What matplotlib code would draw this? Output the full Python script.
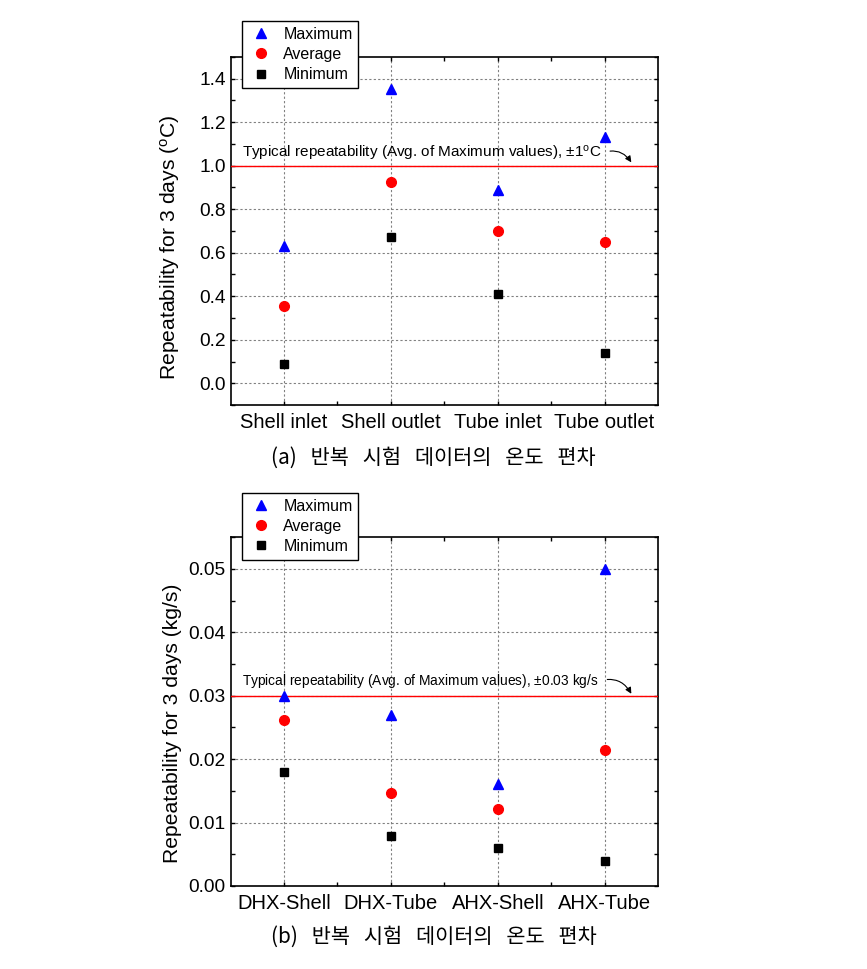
import matplotlib
matplotlib.use("Agg")
import matplotlib.pyplot as plt
import numpy as np

plt.rcParams['font.family'] = ['Liberation Sans', 'DejaVu Sans']
plt.rcParams['mathtext.fontset'] = 'custom'
plt.rcParams['mathtext.rm'] = 'Liberation Sans'
plt.rcParams['mathtext.it'] = 'Liberation Sans:italic'

# panel (a): temperature repeatability
temp_labels = ['Shell inlet', 'Shell outlet', 'Tube inlet', 'Tube outlet']
temp_max = [0.63, 1.35, 0.89, 1.13]
temp_avg = [0.355, 0.925, 0.70, 0.65]
temp_min = [0.09, 0.67, 0.41, 0.14]
temp_typical = 1.0

# panel (b): flow rate repeatability
flow_labels = ['DHX-Shell', 'DHX-Tube', 'AHX-Shell', 'AHX-Tube']
flow_max = [0.030, 0.027, 0.016, 0.050]
flow_avg = [0.0262, 0.0147, 0.0122, 0.0214]
flow_min = [0.0180, 0.0079, 0.0060, 0.0039]
flow_typical = 0.03

fig = plt.figure(figsize=(8.67, 9.69), dpi=100)
ax1 = fig.add_axes([0.266, 0.582, 0.493, 0.3594])
ax2 = fig.add_axes([0.266, 0.0857, 0.493, 0.36])


def draw_panel(ax, labels, vmax, vavg, vmin, typical, ylim, major, minor,
               fmt, ylabel, label_y, note, note_size, note_y, arrow_end,
               legend_top):
    x = np.arange(len(labels))
    h1, = ax.plot(x, vmax, linestyle='none', marker='^', color='#0000ff',
                  markersize=7.5, label='Maximum', zorder=4)
    h2, = ax.plot(x, vavg, linestyle='none', marker='o', color='#ff0000',
                  markersize=7, label='Average', zorder=4)
    h3, = ax.plot(x, vmin, linestyle='none', marker='s', color='black',
                  markersize=6, label='Minimum', zorder=4)
    ax.axhline(typical, color='#ff0000', linewidth=1.0, zorder=3)

    ax.set_xlim(-0.5, 3.5)
    ax.set_ylim(*ylim)
    ax.set_xticks(x)
    ax.set_xticks(x[:-1] + 0.5, minor=True)
    ax.set_xticklabels(labels, fontsize=14.5)
    ax.set_yticks(np.arange(0, ylim[1] + 1e-9, major))
    ax.set_yticks(np.arange(ylim[0], ylim[1] + 1e-9, minor), minor=True)
    ax.yaxis.set_major_formatter(matplotlib.ticker.FormatStrFormatter(fmt))
    ax.tick_params(axis='y', labelsize=13.8)
    ax.tick_params(which='both', direction='in', top=True, right=True,
                   length=3, width=1)
    ax.tick_params(axis='x', pad=6)
    ax.grid(True, which='major', color='gray', linestyle=(0, (2, 2)),
            linewidth=0.8)
    for s in ax.spines.values():
        s.set_linewidth(1.2)
    ax.set_ylabel(ylabel, fontsize=15.2)
    ax.yaxis.set_label_coords(-0.114, label_y)

    # note text with curved arrow leaving its right end
    ax.annotate(note, xy=arrow_end, xytext=(-0.39, note_y),
                fontsize=note_size, ha='left', va='center', zorder=5,
                arrowprops=dict(arrowstyle='-|>', color='black', lw=0.8,
                                mutation_scale=9, relpos=(1.0, 0.5),
                                shrinkA=4, shrinkB=0,
                                connectionstyle='arc3,rad=-0.4'))

    leg = fig.legend(handles=[h1, h2, h3], loc='upper left',
                     bbox_to_anchor=(0.279, legend_top), fontsize=11.5,
                     frameon=True, fancybox=False, edgecolor='black',
                     framealpha=1, borderpad=0.35, borderaxespad=0,
                     handlelength=1.7, handletextpad=0.55, labelspacing=0.32)
    leg.get_frame().set_linewidth(1.0)


draw_panel(ax1, temp_labels, temp_max, temp_avg, temp_min, temp_typical,
           (-0.1, 1.5), 0.2, 0.1, '%.1f',
           r'Repeatability for 3 days ($^\mathrm{o}$C)', 0.4545,
           r'Typical repeatability (Avg. of Maximum values), $\pm$1$^\mathrm{o}$C',
           11.0, 1.057, (3.25, 1.015), 0.978)

draw_panel(ax2, flow_labels, flow_max, flow_avg, flow_min, flow_typical,
           (0.0, 0.055), 0.01, 0.005, '%.2f',
           'Repeatability for 3 days (kg/s)', 0.4675,
           r'Typical repeatability (Avg. of Maximum values), $\pm$0.03 kg/s',
           9.9, 0.0323, (3.25, 0.0303), 0.491)

cap_font = ['Noto Sans CJK KR', 'DejaVu Sans']
fig.text(0.5, 0.528, '(a)   반복   시험   데이터의   온도   편차', ha='center',
         va='center', fontsize=15, family=cap_font)
fig.text(0.5, 0.0334, '(b)   반복   시험   데이터의   온도   편차', ha='center',
         va='center', fontsize=15, family=cap_font)

fig.savefig('out.png', dpi=100)
